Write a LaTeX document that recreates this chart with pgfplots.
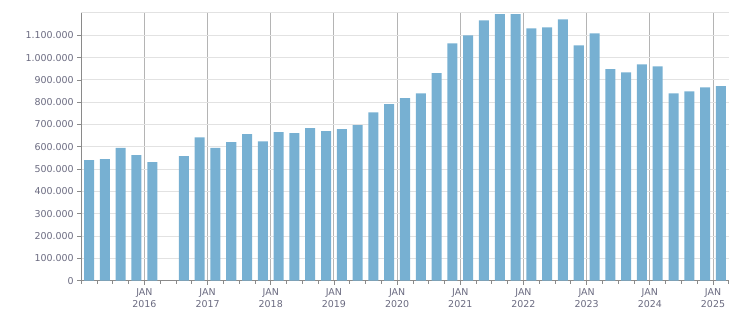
\documentclass[border=0pt]{standalone}
\usepackage{fontspec}
\setmainfont{DejaVu Sans}
\usepackage{pgfplots}
\pgfplotsset{compat=1.18}
\definecolor{barc}{HTML}{77B0D2}
\definecolor{txt}{HTML}{6A6A80}
\definecolor{axc}{HTML}{8A8A8A}
\definecolor{hgrid}{HTML}{E2E2E2}
\definecolor{vgrid}{HTML}{B4B4B4}
\begin{document}
\begin{tikzpicture}
\useasboundingbox (-81.2bp,-32.3bp) rectangle (669.8bp,280.7bp);
\begin{axis}[
  at={(0,0)}, anchor=south west, scale only axis,
  width=647.6bp, height=267.7bp,
  xmin=-0.5, xmax=40.5, ymin=0, ymax=1200000,
  enlargelimits=false,
  axis x line*=bottom, axis y line*=left,
  axis line style={axc, line width=1bp},
  tick style={axc, line width=0.8bp},
  tick align=outside,
  major tick length=4bp, minor tick length=3bp,
  xtick={3.5,7.5,11.5,15.5,19.5,23.5,27.5,31.5,35.5,39.5},
  xticklabels={{JAN\\2016},{JAN\\2017},{JAN\\2018},{JAN\\2019},{JAN\\2020},{JAN\\2021},{JAN\\2022},{JAN\\2023},{JAN\\2024},{JAN\\2025}},
  minor xtick={-0.5,0.5,1.5,2.5,4.5,5.5,6.5,8.5,9.5,10.5,12.5,13.5,14.5,16.5,17.5,18.5,20.5,21.5,22.5,24.5,25.5,26.5,28.5,29.5,30.5,32.5,33.5,34.5,36.5,37.5,38.5,40.5},
  ytick={0,100000,200000,300000,400000,500000,600000,700000,800000,900000,1000000,1100000},
  extra y ticks={1200000}, extra y tick labels={},
  extra y tick style={major tick length=0pt, ymajorgrids=true},
  scaled y ticks=false,
  yticklabel style={/pgf/number format/.cd, fixed, 1000 sep={.}, assume math mode=true},
  xticklabel style={align=center},
  every tick label/.append style={font=\fontsize{9.5}{12.5}\selectfont, text=txt},
  xmajorgrids, ymajorgrids,
  x grid style={vgrid, line width=1bp},
  y grid style={hgrid, line width=1bp},
  ybar, bar width=0.634,
]
\addplot[fill=barc, draw=none] coordinates {
(0,540000) (1,545000) (2,595000) (3,563000) (4,531000)
(6,558000) (7,643000) (8,595000) (9,621000) (10,657000)
(11,625000) (12,666000) (13,661000) (14,684000) (15,670000)
(16,679000) (17,697000) (18,755000) (19,791000) (20,818000)
(21,840000) (22,930000) (23,1064000) (24,1100000) (25,1167000)
(26,1195000) (27,1195000) (28,1131000) (29,1136000) (30,1171000)
(31,1055000) (32,1109000) (33,948000) (34,934000) (35,970000)
(36,961000) (37,840000) (38,849000) (39,867000) (40,872000)
};
\end{axis}
\end{tikzpicture}
\end{document}
